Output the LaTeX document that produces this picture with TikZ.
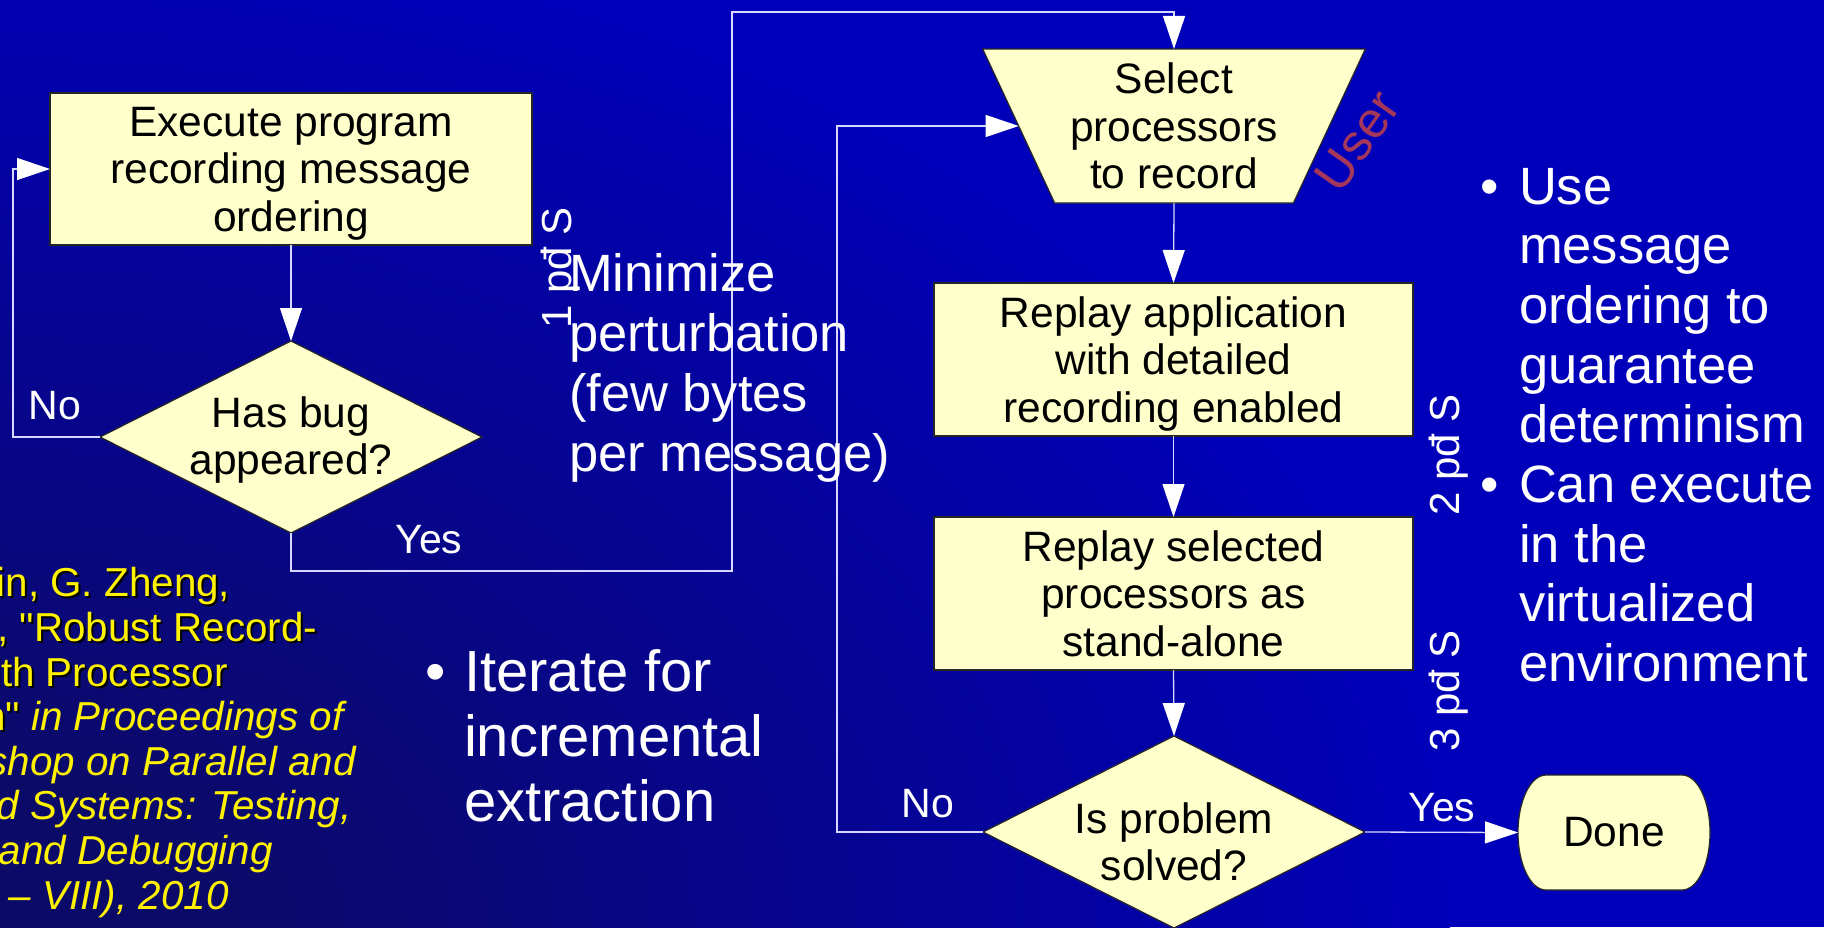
\documentclass[tikz,border=0pt]{standalone}
\usepackage{fontspec}
\setmainfont{Liberation Sans}
\newfontfamily\citefont{Liberation Sans}
\usetikzlibrary{shapes.geometric,arrows.meta}

\definecolor{bgdark}{RGB}{12,10,105}
\definecolor{bgbright}{RGB}{0,0,186}
\definecolor{boxfill}{RGB}{255,255,204}
\definecolor{wirecol}{RGB}{215,215,255}
\definecolor{usercol}{RGB}{165,55,90}

% dark corner at the lower left fading to bright blue (25bp = rim of the ellipse)
\pgfdeclareradialshading{slidebg}{\pgfpoint{0bp}{0bp}}{%
  color(0bp)=(bgdark); color(4bp)=(bgdark); color(25bp)=(bgbright); color(50bp)=(bgbright)}

\begin{document}
\begin{tikzpicture}[x=0.5pt,y=0.5pt,
  every node/.style={inner sep=0pt, outer sep=0pt},
  boxfont/.style={font=\fontsize{21.25pt}{23.75pt}\selectfont},
  procbox/.style={draw=black!85, line width=0.6pt, fill=boxfill, rectangle,
    minimum width=241pt, minimum height=76pt, align=center, boxfont, text depth=-5pt},
  decision/.style={draw=black!85, line width=0.6pt, fill=boxfill, diamond,
    minimum width=191pt, minimum height=96pt},
  shapetext/.style={boxfont, align=center, text=black},
  wire/.style={draw=wirecol, line width=0.65pt},
  flow/.style={wire, -{Triangle[length=16.5pt,width=11pt,color=white]}},
  answer/.style={text=white, font=\fontsize{20.5pt}{24pt}\selectfont},
  steplabel/.style={text=white, rotate=90, font=\fontsize{21pt}{24pt}\selectfont},
  bullettext/.style={text=white, align=left, font=\fontsize{26.25pt}{29.85pt}\selectfont},
  bigtext/.style={text=white, align=left, font=\fontsize{29pt}{32.5pt}\selectfont},
  cite/.style={align=left, font=\citefont\fontsize{20.2pt}{22.3pt}\selectfont}
]
\useasboundingbox (0,0) rectangle (1824,-927);
\begin{scope}
  \clip (0,0) rectangle (1824,-927);
  \fill[bgbright] (0,0) rectangle (1824,-927);
  \shade[shading=slidebg] (0,-927) ellipse [x radius=1450, y radius=1000];

  % reference in the lower left, partly off the slide (anchored at its last line)
  \node[cite, text=black, anchor=base west] (refshadow) at (-172,-911)
    {F. Gioachin, G. Zheng,\\
     L. V. Kalé, "Robust Record-\\
     Replay with Processor\\
     Extraction"\phantom{\itshape\ in Proceedings of}\\
     \phantom{\itshape the Workshop on Parallel and}\\
     \phantom{\itshape Distributed Systems: Testing,}\\
     \phantom{\itshape Analysis, and Debugging}\\
     \phantom{\itshape (PADTAD – VIII), 2010}};
  \node[cite, text=yellow, anchor=base west] (ref) at (-174,-909)
    {F. Gioachin, G. Zheng,\\
     L. V. Kalé, "Robust Record-\\
     Replay with Processor\\
     Extraction"\itshape\ in Proceedings of\\
     \itshape the Workshop on Parallel and\\
     \itshape Distributed Systems: Testing,\\
     \itshape Analysis, and Debugging\\
     \itshape (PADTAD – VIII), 2010};
\end{scope}

% flowchart shapes
\node[procbox] (exec) at (291,-169) {Execute program\\recording message\\ordering};
\node[decision, label={[shapetext, yshift=-1.5pt]center:{Has bug\\appeared?}}] (bug) at (291,-437) {};

\node[trapezium, shape border rotate=180, trapezium angle=63.6, trapezium stretches=true,
  minimum width=191.5pt, minimum height=77pt, draw=black!85, line width=0.6pt, fill=boxfill,
  shapetext] (sel) at (1174,-126) {Select\\processors\\to record};

\node[procbox, minimum width=239.5pt, minimum height=76.5pt] (replay) at (1173.5,-359.5)
  {Replay application\\with detailed\\recording enabled};
\node[procbox, minimum width=239.5pt, minimum height=76.5pt] (standalone) at (1173.5,-593.5)
  {Replay selected\\processors as\\stand-alone};
\node[decision, label={[shapetext, yshift=-5pt]center:{Is problem\\solved?}}] (solved) at (1174,-832) {};

% terminator with elliptical ends
\draw[draw=black!85, line width=0.6pt, fill=boxfill]
  (1682,-775) arc[start angle=90, end angle=0, x radius=28, y radius=57.5]
  arc[start angle=0, end angle=-90, x radius=28, y radius=57.5]
  -- (1546,-890)
  arc[start angle=270, end angle=180, x radius=28, y radius=57.5]
  arc[start angle=180, end angle=90, x radius=28, y radius=57.5] -- cycle;
\node[boxfont, text=black, minimum width=96pt, minimum height=57.5pt] (done) at (1614,-832.5) {Done};

% bends of the connectors
\coordinate (n1) at (13,-437);
\coordinate (ya) at (732,-571);
\coordinate (yb) at (732,-12);
\coordinate (n2) at (837,-832);

\draw[flow] (exec.south) -- (bug.north);
\draw[flow] (bug.west) -- (n1) |- (exec.west);
\draw[flow] (bug.south) |- (ya) -- (yb) -| (sel.north);
\draw[flow] (sel.south) -- (replay.north);
\draw[flow] (replay.south) -- (standalone.north);
\draw[flow] (standalone.south) -- (solved.north);
\draw[flow] (solved.west) -- (n2) |- (sel.west);
\draw[flow] (solved.east) -- (done.west);

% branch labels
\node[answer] (no1) at (55,-406) {No};
\node[answer] (yes1) at (429,-540) {Yes};
\node[answer] (no2) at (928,-804) {No};
\node[answer] (yes2) at (1442,-808) {Yes};

\node[text=usercol, rotate=55, font=\fontsize{25.5pt}{26pt}\selectfont] (user) at (1357,-141) {User};

% step markers
\node[steplabel] (s1) at (561,-268) {1 pđ S};
\node[steplabel] (s2) at (1449,-455) {2 pđ S};
\node[steplabel] (s3) at (1449,-691) {3 pđ S};

% slide text (multi-line nodes are anchored at the baseline of their last line)
\node[bullettext, anchor=base west] (minimize) at (569,-471)
  {Minimize\\perturbation\\(few bytes\\per message)};
\node[bullettext, anchor=base] (dot1) at (1490,-204) {•};
\node[bullettext, anchor=base west] (use) at (1519,-442.8)
  {Use\\message\\ordering to\\guarantee\\determinism};
\node[bullettext, anchor=base] (dot2) at (1490,-502.5) {•};
\node[bullettext, anchor=base west] (virt) at (1519,-681.6)
  {Can execute\\in the\\virtualized\\environment};
\node[bigtext, anchor=base] (dot3) at (436,-691) {•};
\node[bigtext, anchor=base west] (iter) at (464,-821)
  {Iterate for\\incremental\\extraction};
\end{tikzpicture}
\end{document}
